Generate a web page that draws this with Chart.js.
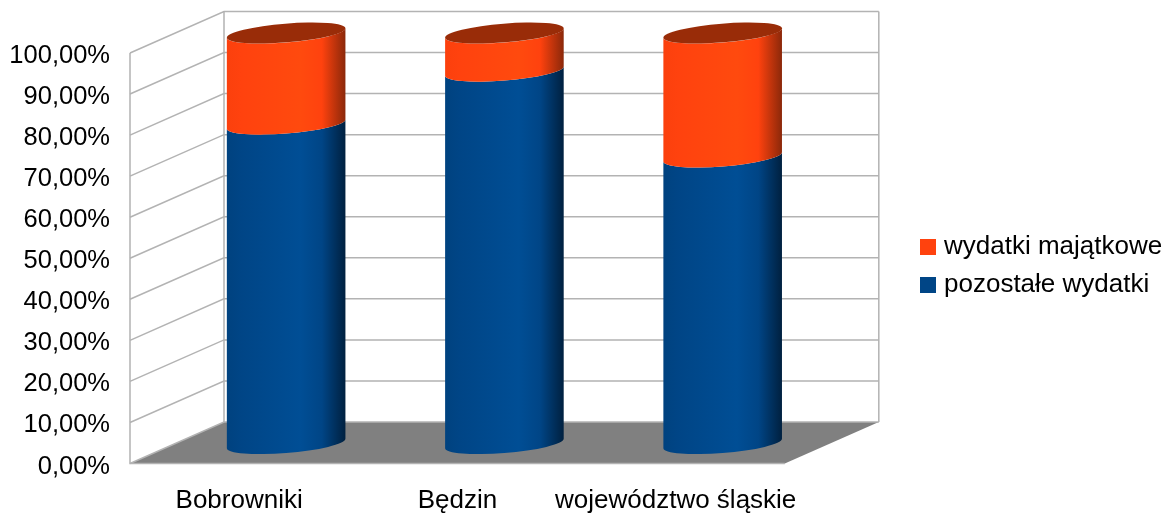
<!DOCTYPE html>
<html lang="pl">
<head>
  <meta charset="UTF-8">
  <title>Wydatki</title>
  <script src="https://cdn.jsdelivr.net/npm/chart.js"></script>
  <style>
    html, body { margin: 0; background: #fff; }
    canvas { display: block; }
  </style>
</head>
<body>
  <canvas id="chart" width="1168" height="514"></canvas>
  <script>
    const categories = ['Bobrowniki', 'Będzin', 'województwo śląskie'];
    const pozostale = [77.8, 90.7, 69.8];
    const majatkowe = [22.2, 9.3, 30.2];
    const seriesNames = ['pozostałe wydatki', 'wydatki majątkowe'];
    const seriesColors = ['#004586', '#ff420e'];

    // oblique depth of the 3D box and of the bars standing in its middle
    const depthX = 94, depthY = 41.5;
    const barDX = 47, barDY = 20;
    const tilt = -0.08, minor = 9.4;

    function legendSwatch(color) {
      const c = document.createElement('canvas');
      c.width = 16; c.height = 16;
      const g = c.getContext('2d');
      g.fillStyle = color;
      g.fillRect(0, 0, 16, 16);
      return c;
    }

    // box walls, floor and the grid lines taken from the y scale
    const box3d = {
      id: 'box3d',
      afterLayout(chart) {
        const lg = chart.legend;
        lg.left = 913;
        lg.right = 1168;
        lg.top -= 35;
      },
      beforeDatasetsDraw(chart) {
        const { ctx, chartArea: { left, right, top, bottom }, scales: { y } } = chart;
        ctx.save();
        ctx.fillStyle = '#808080';
        ctx.beginPath();
        ctx.moveTo(left, bottom);
        ctx.lineTo(left + depthX, bottom - depthY);
        ctx.lineTo(right + depthX, bottom - depthY);
        ctx.lineTo(right, bottom);
        ctx.closePath();
        ctx.fill();

        ctx.strokeStyle = '#b3b3b3';
        ctx.lineWidth = 1.5;
        y.ticks.forEach(t => {
          const py = y.getPixelForValue(t.value);
          ctx.beginPath();
          ctx.moveTo(left, py);
          ctx.lineTo(left + depthX, py - depthY);
          ctx.lineTo(right + depthX, py - depthY);
          ctx.stroke();
        });
        ctx.beginPath();
        ctx.moveTo(left, top); ctx.lineTo(left, bottom); ctx.lineTo(right, bottom);
        ctx.moveTo(left + depthX, top - depthY); ctx.lineTo(left + depthX, bottom - depthY);
        ctx.moveTo(right + depthX, top - depthY); ctx.lineTo(right + depthX, bottom - depthY);
        ctx.stroke();
        ctx.restore();
      },
      afterDatasetsDraw(chart) {
        const { ctx } = chart;
        const stops = [
          { dark: '#00427f', mid: '#004586', light: '#004e95', end: '#00203f' },
          { dark: '#fb400d', mid: '#ff420e', light: '#ff4a0e', end: '#8a280a' }
        ];
        categories.forEach((_, i) => {
          chart.data.datasets.forEach((ds, d) => {
            const el = chart.getDatasetMeta(d).data[i];
            const cx = el.x + barDX;
            const a = el.width / 2;
            const t0 = Math.atan(-(minor / a) * Math.tan(tilt));
            const yTop = el.y - barDY, yBase = el.base - barDY;
            const s = stops[d];
            const grad = ctx.createLinearGradient(cx - a, 0, cx + a, 0);
            grad.addColorStop(0, s.dark);
            grad.addColorStop(0.12, s.mid);
            grad.addColorStop(0.62, s.light);
            grad.addColorStop(0.8, s.mid);
            grad.addColorStop(1, s.end);
            ctx.fillStyle = grad;
            ctx.beginPath();
            ctx.ellipse(cx, yBase, a, minor, tilt, t0, t0 + Math.PI);
            ctx.ellipse(cx, yTop, a, minor, tilt, t0 + Math.PI, t0, true);
            ctx.closePath();
            ctx.fill();
            if (d === chart.data.datasets.length - 1) {
              ctx.fillStyle = '#992c08';
              ctx.beginPath();
              ctx.ellipse(cx, yTop, a, minor, tilt, 0, Math.PI * 2);
              ctx.fill();
            }
          });
        });
      }
    };

    new Chart(document.getElementById('chart'), {
      type: 'bar',
      data: {
        labels: categories,
        datasets: [
          { label: seriesNames[0], data: pozostale, backgroundColor: 'transparent', pointStyle: legendSwatch(seriesColors[0]) },
          { label: seriesNames[1], data: majatkowe, backgroundColor: 'transparent', pointStyle: legendSwatch(seriesColors[1]) }
        ]
      },
      options: {
        responsive: false,
        animation: false,
        categoryPercentage: 1,
        barPercentage: 0.545,
        layout: { padding: { top: 53, right: 124, left: 0, bottom: 0 } },
        font: { family: '"Liberation Sans"', size: 25 },
        scales: {
          x: {
            stacked: true,
            grid: { display: false },
            border: { display: false },
            afterFit(s) { s.height = 50.5; },
            ticks: { color: '#000', padding: 14, autoSkip: false, maxRotation: 0, minRotation: 0, font: { size: 26 } }
          },
          y: {
            stacked: true,
            min: 0,
            max: 100,
            grid: { display: false },
            border: { display: false },
            afterFit(s) { s.width = 130; },
            ticks: {
              color: '#000',
              stepSize: 10,
              padding: 12,
              labelOffset: 3,
              font: { size: 25.5 },
              callback: v => v.toFixed(2).replace('.', ',') + '%'
            }
          }
        },
        plugins: {
          tooltip: { enabled: false },
          legend: {
            position: 'right',
            reverse: true,
            labels: {
              color: '#000',
              font: { size: 26 },
              usePointStyle: true,
              pointStyleWidth: 6,
              padding: 12
            }
          }
        }
      },
      plugins: [box3d]
    });
  </script>
</body>
</html>
